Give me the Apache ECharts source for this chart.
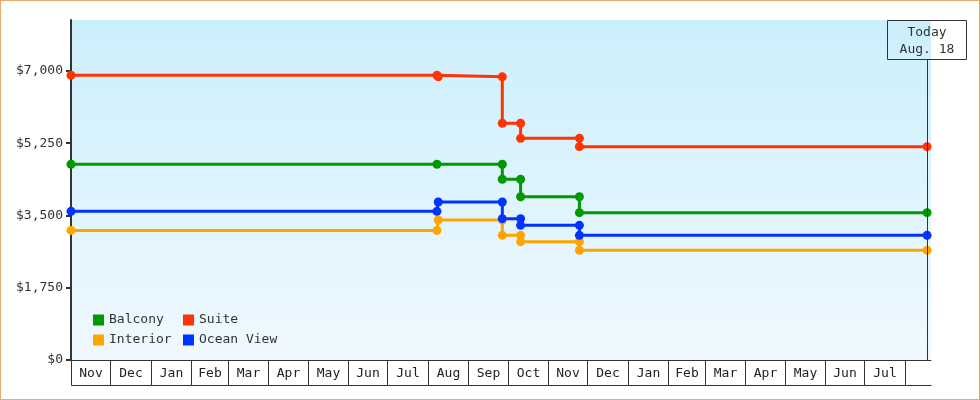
<!DOCTYPE html>
<html>
<head>
<meta charset="utf-8">
<script src="https://cdn.jsdelivr.net/npm/echarts@6/dist/echarts.min.js"></script>
<style>
  html, body { margin: 0; padding: 0; background: #fff; }
  #wrap { position: relative; width: 980px; height: 400px; }
  #chart { position: absolute; left: 0; top: 0; width: 980px; height: 400px; }
  #frame { position: absolute; left: 0; top: 0; width: 980px; height: 400px; box-sizing: border-box; border: 1px solid #EBAA66; pointer-events: none; }
</style>
</head>
<body>
<div id="wrap"><div id="chart"></div><div id="frame"></div></div>
<script>
// ---- data ----
const seriesNames = ['Balcony', 'Suite', 'Interior', 'Ocean View'];
const seriesColors = ['#009900', '#FF3300', '#FFA500', '#0033FF'];

const balconyPoints = [
  ['2012-11-01', 4740], ['2013-08-08', 4740], ['2013-09-27', 4740], ['2013-09-27', 4377],
  ['2013-10-11', 4377], ['2013-10-11', 3955], ['2013-11-25', 3955], ['2013-11-25', 3568],
  ['2014-08-18', 3568]
];
const suitePoints = [
  ['2012-11-01', 6896], ['2013-08-08', 6896], ['2013-08-09', 6858], ['2013-09-27', 6858],
  ['2013-09-27', 5733], ['2013-10-11', 5733], ['2013-10-11', 5369], ['2013-11-25', 5369],
  ['2013-11-25', 5167], ['2014-08-18', 5167]
];
const interiorPoints = [
  ['2012-11-01', 3138], ['2013-08-08', 3138], ['2013-08-09', 3391], ['2013-09-27', 3391],
  ['2013-09-27', 3019], ['2013-10-11', 3019], ['2013-10-11', 2866], ['2013-11-25', 2866],
  ['2013-11-25', 2657], ['2014-08-18', 2657]
];
const oceanViewPoints = [
  ['2012-11-01', 3601], ['2013-08-08', 3601], ['2013-08-09', 3827], ['2013-09-27', 3827],
  ['2013-09-27', 3423], ['2013-10-11', 3423], ['2013-10-11', 3262], ['2013-11-25', 3262],
  ['2013-11-25', 3019], ['2014-08-18', 3019]
];

const yTickValues = [0, 1750, 3500, 5250, 7000];
const yMax = 8235;

const monthStarts = [
  '2012-11-01', '2012-12-01', '2013-01-01', '2013-02-01', '2013-03-01', '2013-04-01',
  '2013-05-01', '2013-06-01', '2013-07-01', '2013-08-01', '2013-09-01', '2013-10-01',
  '2013-11-01', '2013-12-01', '2014-01-01', '2014-02-01', '2014-03-01', '2014-04-01',
  '2014-05-01', '2014-06-01', '2014-07-01', '2014-08-01'
];
const monthLabels = [
  'Nov', 'Dec', 'Jan', 'Feb', 'Mar', 'Apr', 'May', 'Jun', 'Jul', 'Aug', 'Sep', 'Oct',
  'Nov', 'Dec', 'Jan', 'Feb', 'Mar', 'Apr', 'May', 'Jun', 'Jul', ''
];
const xStart = '2012-11-01';
const xEnd = '2014-08-21';
const todayDate = '2014-08-18';
const todayText = 'Today\nAug. 18';
const todayLineTop = 7265;

// ---- chart ----
const FONT = '"DejaVu Sans Mono", "Liberation Mono", monospace';
const t = s => echarts.time.parse(s).getTime();
const pts = arr => arr.map(p => [t(p[0]), p[1]]);
const allPoints = [balconyPoints, suitePoints, interiorPoints, oceanViewPoints];

const monthData = monthStarts.map((s, i) => [t(s), t(i + 1 < monthStarts.length ? monthStarts[i + 1] : xEnd), 0]);

const lineSeries = seriesNames.map((name, i) => ({
  name,
  type: 'line',
  data: pts(allPoints[i]),
  color: seriesColors[i],
  symbol: 'circle',
  symbolSize: 9,
  showSymbol: true,
  lineStyle: { width: 3, color: seriesColors[i] },
  itemStyle: { color: seriesColors[i] },
  z: 3
}));

lineSeries.push({
  name: 'today',
  type: 'line',
  data: [],
  markLine: {
    silent: true,
    symbol: 'none',
    label: { show: false },
    lineStyle: { color: '#333', width: 1, type: 'solid' },
    data: [[{ coord: [t(todayDate), todayLineTop] }, { coord: [t(todayDate), 0] }]]
  },
  z: 2
});

lineSeries.push({
  name: 'months',
  type: 'custom',
  coordinateSystem: 'cartesian2d',
  clip: false,
  silent: true,
  encode: { x: [0, 1], y: 2 },
  data: monthData,
  renderItem: function (params, api) {
    const a = api.coord([api.value(0), 0]);
    const b = api.coord([api.value(1), 0]);
    const x0 = Math.round(a[0]) + 0.5;
    const x1 = Math.round(b[0]) + 0.5;
    const y = Math.round(a[1]) + 0.5;
    const h = 25;
    const label = monthLabels[params.dataIndex];
    const children = [];
    if (label) {
      children.push({
        type: 'rect',
        shape: { x: x0, y: y, width: x1 - x0, height: h },
        style: { fill: 'none', stroke: '#333', lineWidth: 1 }
      });
      children.push({
        type: 'text',
        x: (x0 + x1) / 2,
        y: y + h / 2 + 1,
        style: { text: label, fill: '#222', font: '13px ' + FONT, align: 'center', verticalAlign: 'middle' }
      });
    } else {
      children.push({
        type: 'line',
        shape: { x1: x0, y1: y + h, x2: x1, y2: y + h },
        style: { stroke: '#333', lineWidth: 1 }
      });
    }
    return { type: 'group', children };
  },
  z: 1
});

const chart = echarts.init(document.getElementById('chart'), null, { renderer: 'canvas' });
chart.setOption({
  animation: false,
  backgroundColor: '#fff',
  textStyle: { fontFamily: FONT },
  title: {
    text: todayText,
    left: 915,
    top: 20,
    textAlign: 'center',
    padding: [4, 12, 2, 12],
    borderColor: '#333',
    borderWidth: 1,
    textStyle: { fontFamily: FONT, fontSize: 13, fontWeight: 'normal', color: '#333', lineHeight: 17 }
  },
  legend: [
    {
      data: ['Balcony', 'Interior'],
      orient: 'vertical',
      left: 93, top: 313,
      padding: 0,
      itemWidth: 11, itemHeight: 11, itemGap: 6,
      icon: 'rect',
      selectedMode: false,
      textStyle: { fontFamily: FONT, fontSize: 13, color: '#333', lineHeight: 14 }
    },
    {
      data: ['Suite', 'Ocean View'],
      orient: 'vertical',
      left: 183, top: 313,
      padding: 0,
      itemWidth: 11, itemHeight: 11, itemGap: 6,
      icon: 'rect',
      selectedMode: false,
      textStyle: { fontFamily: FONT, fontSize: 13, color: '#333', lineHeight: 14 }
    }
  ],
  grid: {
    left: 71, right: 49, top: 20, bottom: 40,
    containLabel: false,
    outerBoundsMode: 'none',
    show: true,
    borderWidth: 0,
    backgroundColor: new echarts.graphic.LinearGradient(0, 0, 0, 1, [
      { offset: 0, color: '#CCEFFC' },
      { offset: 1, color: '#F0F9FF' }
    ])
  },
  xAxis: {
    type: 'time',
    min: t(xStart),
    max: t(xEnd),
    axisLine: { show: true, lineStyle: { color: '#333', width: 1 } },
    axisTick: { show: false },
    axisLabel: { show: false },
    splitLine: { show: false }
  },
  yAxis: {
    type: 'value',
    min: 0,
    max: yMax,
    interval: 1750,
    axisLine: { show: true, lineStyle: { color: '#333', width: 2 } },
    axisTick: { show: true, length: 5, lineStyle: { color: '#333', width: 2 }, customValues: yTickValues },
    axisLabel: {
      color: '#333', fontFamily: FONT, fontSize: 13, margin: 8,
      customValues: yTickValues,
      formatter: v => '$' + Number(v).toLocaleString('en-US')
    },
    splitLine: { show: false }
  },
  series: lineSeries
});
</script>
</body>
</html>
